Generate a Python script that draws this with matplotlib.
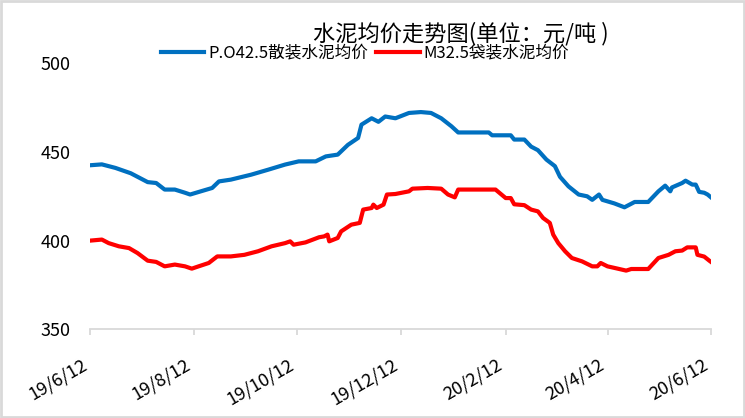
import matplotlib
matplotlib.use("Agg")
import matplotlib.pyplot as plt
import pandas as pd
from matplotlib.patches import Rectangle

plt.rcParams['font.family'] = ['Noto Sans CJK SC', 'DejaVu Sans']

title = "水泥均价走势图(单位：元/吨 )"
series_names = ["P.O42.5散装水泥均价", "M32.5袋装水泥均价"]

po_dates = ["2019-06-12", "2019-06-19", "2019-06-27", "2019-07-06", "2019-07-16", "2019-07-21",
            "2019-07-26", "2019-08-01", "2019-08-07", "2019-08-10", "2019-08-17", "2019-08-23",
            "2019-08-27", "2019-09-03", "2019-09-15", "2019-09-25", "2019-10-05", "2019-10-13",
            "2019-10-23", "2019-10-29", "2019-11-05", "2019-11-11", "2019-11-17", "2019-11-19",
            "2019-11-25", "2019-11-29", "2019-12-03", "2019-12-09", "2019-12-17", "2019-12-24",
            "2019-12-30", "2020-01-05", "2020-01-11", "2020-01-15", "2020-02-02", "2020-02-04",
            "2020-02-15", "2020-02-17", "2020-02-23", "2020-02-27", "2020-03-02", "2020-03-07",
            "2020-03-12", "2020-03-15", "2020-03-20", "2020-03-26", "2020-03-31", "2020-04-03",
            "2020-04-07", "2020-04-09", "2020-04-16", "2020-04-22", "2020-04-28", "2020-05-06",
            "2020-05-12", "2020-05-16", "2020-05-19", "2020-05-20", "2020-05-26", "2020-05-28",
            "2020-06-01", "2020-06-03", "2020-06-05", "2020-06-08", "2020-06-10", "2020-06-12"]
po_values = [442.5, 443.0, 441.0, 438.0, 433.0, 432.5,
             428.8, 428.8, 427.0, 426.0, 428.0, 429.7,
             433.4, 434.4, 437.2, 440.0, 442.9, 444.7,
             444.7, 447.5, 448.5, 454.0, 457.9, 465.4,
             469.0, 467.0, 470.0, 469.0, 472.0, 472.5,
             472.0, 469.0, 464.5, 461.0, 461.0, 459.4,
             459.4, 457.0, 457.0, 453.0, 451.0, 445.7,
             442.0, 436.0, 430.6, 426.0, 425.0, 423.0,
             426.0, 423.0, 421.0, 418.8, 421.8, 421.8,
             427.8, 431.0, 427.8, 430.0, 432.5, 433.8,
             431.6, 431.6, 427.5, 427.0, 426.0, 424.4]

m_dates = ["2019-06-12", "2019-06-19", "2019-06-23", "2019-06-29", "2019-07-05", "2019-07-10",
           "2019-07-16", "2019-07-21", "2019-07-26", "2019-08-01", "2019-08-07", "2019-08-11",
           "2019-08-15", "2019-08-21", "2019-08-26", "2019-09-03", "2019-09-11", "2019-09-19",
           "2019-09-27", "2019-10-05", "2019-10-08", "2019-10-10", "2019-10-17", "2019-10-25",
           "2019-10-28", "2019-10-30", "2019-10-31", "2019-11-05", "2019-11-07", "2019-11-13",
           "2019-11-18", "2019-11-20", "2019-11-25", "2019-11-26", "2019-11-28", "2019-12-02",
           "2019-12-04", "2019-12-09", "2019-12-17", "2019-12-19", "2019-12-28", "2020-01-05",
           "2020-01-09", "2020-01-13", "2020-01-15", "2020-02-06", "2020-02-12", "2020-02-15",
           "2020-02-17", "2020-02-23", "2020-02-27", "2020-03-02", "2020-03-05", "2020-03-09",
           "2020-03-11", "2020-03-14", "2020-03-18", "2020-03-22", "2020-03-28", "2020-04-03",
           "2020-04-06", "2020-04-08", "2020-04-12", "2020-04-18", "2020-04-23", "2020-04-26",
           "2020-05-06", "2020-05-12", "2020-05-18", "2020-05-22", "2020-05-26", "2020-05-29",
           "2020-06-03", "2020-06-04", "2020-06-08", "2020-06-11", "2020-06-12"]
m_values = [400.0, 400.6, 398.6, 396.8, 395.8, 393.0,
            388.7, 388.0, 385.5, 386.5, 385.5, 384.2,
            385.5, 387.4, 391.1, 391.1, 392.0, 394.0,
            396.8, 398.6, 399.6, 397.7, 399.0, 401.9,
            402.4, 403.4, 399.6, 401.5, 405.2, 409.0,
            410.0, 417.5, 418.4, 420.3, 418.4, 420.3,
            426.0, 426.3, 427.8, 429.3, 429.7, 429.3,
            426.0, 424.4, 428.8, 428.8, 424.0, 424.0,
            420.5, 420.0, 417.5, 416.5, 412.8, 410.0,
            403.4, 398.6, 394.0, 390.2, 388.3, 385.5,
            385.5, 387.4, 385.5, 384.2, 383.1, 384.0,
            384.0, 390.2, 392.0, 394.0, 394.4, 396.2,
            396.2, 392.0, 391.0, 388.7, 388.0]

tick_dates = ["2019-06-12", "2019-08-12", "2019-10-12", "2019-12-12",
              "2020-02-12", "2020-04-12", "2020-06-12"]
tick_labels = ["19/6/12", "19/8/12", "19/10/12", "19/12/12", "20/2/12", "20/4/12", "20/6/12"]
y_ticks = [350, 400, 450, 500]

fig = plt.figure(figsize=(7.45, 4.18), dpi=100)
ax = fig.add_axes([90/745, 88.7/418, 621/745, 266/418])

l1, = ax.plot(pd.to_datetime(po_dates), po_values, color="#0070C0", lw=3.0,
              solid_joinstyle="round", label=series_names[0])
l2, = ax.plot(pd.to_datetime(m_dates), m_values, color="#FF0000", lw=3.0,
              solid_joinstyle="round", label=series_names[1])

ax.set_xlim(pd.Timestamp(tick_dates[0]), pd.Timestamp(tick_dates[-1]))
ax.set_ylim(350, 500)
ax.set_xticks(pd.to_datetime(tick_dates))
ax.set_xticklabels(tick_labels, rotation=30, ha="right", fontsize=13)
ax.set_yticks(y_ticks)
ax.set_yticklabels([str(v) for v in y_ticks], fontsize=13)

for s in ["left", "top", "right"]:
    ax.spines[s].set_visible(False)
ax.spines["bottom"].set_color("#d9d9d9")
ax.spines["bottom"].set_linewidth(1.3)
ax.tick_params(axis="x", direction="out", length=4, width=1.3, color="#d9d9d9", pad=15)
ax.tick_params(axis="y", length=0, pad=14)
ax.patch.set_alpha(0)

fig.text(461/745, 1 - 34/418, title, ha="center", va="center", fontsize=16)
fig.legend(handles=[l1, l2], loc="center", bbox_to_anchor=(365/745, 1 - 53/418),
           ncol=2, frameon=False, fontsize=12, handlelength=2.6, handletextpad=0.25,
           columnspacing=0.5, borderpad=0, borderaxespad=0)

fig.patches.append(Rectangle((0.002, 0.003), 0.996, 0.994, transform=fig.transFigure,
                             fill=False, edgecolor="#d9d9d9", lw=2))

fig.savefig("out.png", dpi=100)
